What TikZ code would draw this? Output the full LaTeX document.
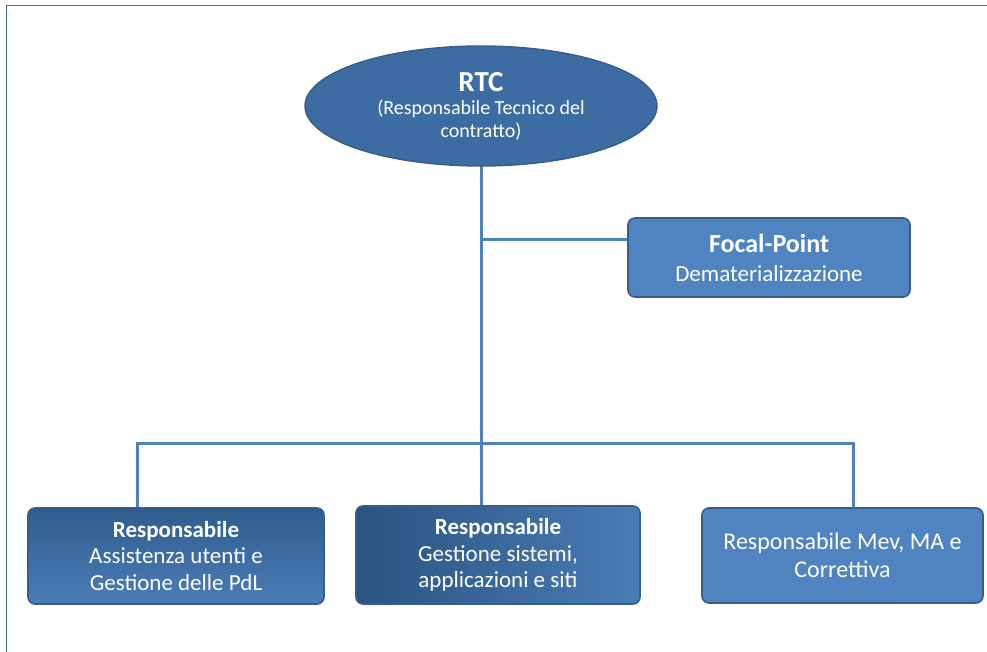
\documentclass[tikz,border=0pt]{standalone}
\usepackage{fontspec}
\setmainfont{Carlito}
\usetikzlibrary{shapes.geometric}
\definecolor{edgeblue}{HTML}{385D8A}
\definecolor{linkblue}{HTML}{4F81BD}
\definecolor{frameblue}{HTML}{3B6E96}
\definecolor{ovalfill}{HTML}{3C6CA2}
\definecolor{lightfill}{HTML}{5084C0}
\definecolor{darkfill}{HTML}{2F5D8E}
\definecolor{midfill}{HTML}{4A7CB6}
\newcommand{\fs}[2]{\fontsize{#1}{#2}\selectfont}
\tikzset{
  x=1pt, y=-1pt,
  box/.style={draw=edgeblue, line width=1.6pt, rounded corners=7pt,
    text=white, align=center, inner sep=0pt, font=\fs{23}{26.5}},
  link/.style={draw=linkblue, line width=3pt},
}
\begin{document}
\begin{tikzpicture}
\useasboundingbox (0,0) rectangle (987,652);
% outer frame (left and top edges only)
\draw[frameblue, line width=1.6pt] (6.5,652) -- (6.5,5.5) -- (987,5.5);

% connectors (drawn first so boxes sit on top)
\coordinate (hub) at (481,443);
\coordinate (tap) at (481,240);
\coordinate (top) at (481,160);
\coordinate (leftdrop) at (137,443);
\coordinate (rightdrop) at (853,443);
\coordinate (leftend) at (137,510);
\coordinate (midend) at (481,510);
\coordinate (rightend) at (853,510);
\coordinate (focalend) at (630,240);
\draw[link] (top) -- (hub);
\draw[link] (tap) -- (focalend);
\draw[link] (leftend) -- (leftdrop) -- (rightdrop) -- (rightend);
\draw[link] (hub) -- (midend);

% top oval
\node[ellipse, draw=edgeblue, line width=1.4pt, fill=ovalfill,
  minimum width=352pt, minimum height=120pt, inner sep=0pt,
  text=white, align=center, font=\fs{20}{22.5}] (rtc) at (481,106)
  {\fs{29}{30}\bfseries RTC\\[1pt]
   (Responsabile Tecnico del\\contratto)};

% side box
\node[box, fill=lightfill, minimum width=282pt, minimum height=79pt,
  font=\fs{23}{29}] (focal) at (769,257.5)
  {\fs{26}{29}\bfseries Focal-Point\\Dematerializzazione};

% lower boxes
\node[box, top color=darkfill, bottom color=midfill, minimum width=296pt, minimum height=96pt] (b1) at (176,556)
  {\bfseries Responsabile\\Assistenza utenti e\\Gestione delle PdL};
\node[box, left color=darkfill!90!black, right color=midfill, minimum width=284pt, minimum height=98pt] (b2) at (498,555)
  {\bfseries Responsabile\\Gestione sistemi,\\applicazioni e siti};
\node[box, fill=lightfill, minimum width=281pt, minimum height=95pt,
  font=\fs{24}{28}] (b3) at (842.5,555.5)
  {Responsabile Mev, MA e\\Correttiva};
\end{tikzpicture}
\end{document}
